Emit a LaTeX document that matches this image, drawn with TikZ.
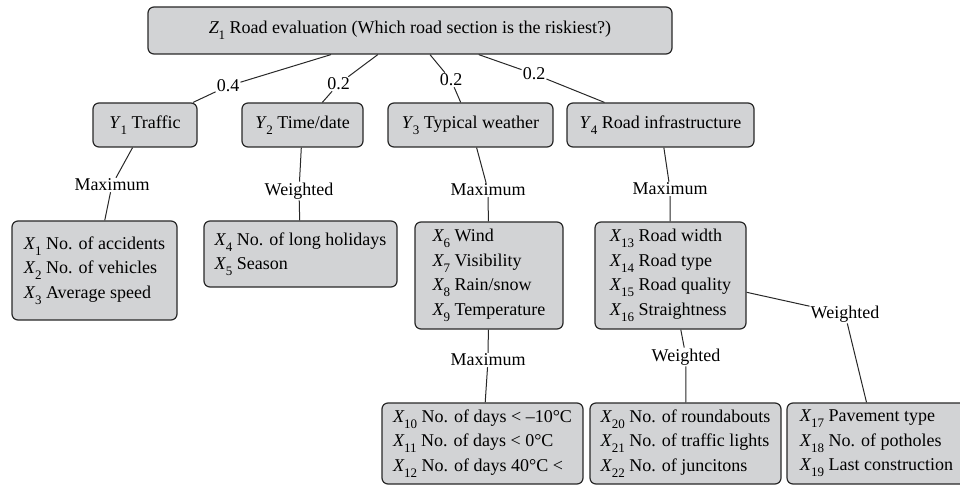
\documentclass[tikz,border=0pt]{standalone}
\usepackage{fontspec}
\setmainfont{Liberation Serif}
\definecolor{boxgray}{RGB}{210,211,213}
\definecolor{linegray}{RGB}{40,40,40}
\newcommand{\vn}[2]{\textit{#1}\kern-0.5pt\raisebox{-6pt}{\fontsize{13}{13}\selectfont #2}}

\begin{document}
\begin{tikzpicture}[x=1pt, y=-1pt,
        font=\fontsize{18}{24.5}\selectfont,
        box/.style={draw=linegray, line width=1.2pt, fill=boxgray, rounded corners=6pt, align=left, inner sep=0pt},
        lbl/.style={inner sep=1pt},
        conn/.style={linegray, line width=1pt}]
            \useasboundingbox (0,0) rectangle (960,486);

            \node[box, minimum width=524pt, minimum height=47pt] (Z) at (410,30.5) {\vn{Z}{1} Road evaluation (Which road section is the riskiest?)};

            \node[box, minimum width=104pt, minimum height=44pt] (Y1) at (145,125) {\vn{Y}{1} Traffic};
            \node[box, minimum width=121pt, minimum height=44pt] (Y2) at (302.5,125) {\vn{Y}{2} Time/date};
            \node[box, minimum width=165pt, minimum height=44pt] (Y3) at (470.5,125) {\vn{Y}{3} Typical weather};
            \node[box, minimum width=187pt, minimum height=44pt] (Y4) at (660.5,125) {\vn{Y}{4} Road infrastructure};

            \node[box, minimum width=165pt, minimum height=99pt] (X1) at (94.5,270.5) {\vn{X}{1} No. of accidents\\ \vn{X}{2} No. of vehicles\\ \vn{X}{3} Average speed};
            \node[box, minimum width=193pt, minimum height=66pt] (X4) at (300.5,254) {\vn{X}{4} No. of long holidays\\ \vn{X}{5} Season};
            \node[box, minimum width=148pt, minimum height=107pt] (X6) at (489,275.5) {\vn{X}{6} Wind\\ \vn{X}{7} Visibility\\ \vn{X}{8} Rain/snow\\ \vn{X}{9} Temperature};
            \node[box, minimum width=151pt, minimum height=107pt] (X13) at (670.5,275.5) {\vn{X}{13} Road width\\ \vn{X}{14} Road type\\ \vn{X}{15} Road quality\\ \vn{X}{16} Straightness};

            \node[box, minimum width=201pt, minimum height=81pt] (X10) at (482.5,443.5) {\vn{X}{10} No. of days < –10°C\\ \vn{X}{11} No. of days < 0°C\\ \vn{X}{12} No. of days 40°C <};
            \node[box, minimum width=191pt, minimum height=81pt] (X20) at (685.5,443.5) {\vn{X}{20} No. of roundabouts\\ \vn{X}{21} No. of traffic lights\\ \vn{X}{22} No. of juncitons};
            \node[box, minimum width=179pt, minimum height=81pt] (X17) at (876.5,443.5) {\vn{X}{17} Pavement type\\ \vn{X}{18} No. of potholes\\ \vn{X}{19} Last construction};

            \node[lbl] (w1) at (228,86) {0.4};
            \node[lbl] (w2) at (338.5,84) {0.2};
            \node[lbl] (w3) at (451,80) {0.2};
            \node[lbl] (w4) at (534,74) {0.2};

            \node[lbl] (a1) at (112,185) {Maximum};
            \node[lbl] (a2) at (299,191) {Weighted};
            \node[lbl] (a3) at (488,190) {Maximum};
            \node[lbl] (a4) at (670,189) {Maximum};
            \node[lbl] (a5) at (488,360) {Maximum};
            \node[lbl] (a6) at (686,357) {Weighted};
            \node[lbl] (a7) at (845,314) {Weighted};

            \draw[conn] (Z) -- (w1) -- (Y1);
            \draw[conn] (Z) -- (w2) -- (Y2);
            \draw[conn] (Z) -- (w3) -- (Y3);
            \draw[conn] (Z) -- (w4) -- (Y4);

            \draw[conn] (Y1) -- (a1) -- (X1);
            \draw[conn] (Y2) -- (a2) -- (X4);
            \draw[conn] (Y3) -- (a3) -- (X6);
            \draw[conn] (Y4) -- (a4) -- (X13);
            \draw[conn] (X6) -- (a5) -- (X10);
            \draw[conn] (X13) -- (a6) -- (X20);
            \draw[conn] (X13) -- (a7) -- (X17);
        \end{tikzpicture}
\end{document}
